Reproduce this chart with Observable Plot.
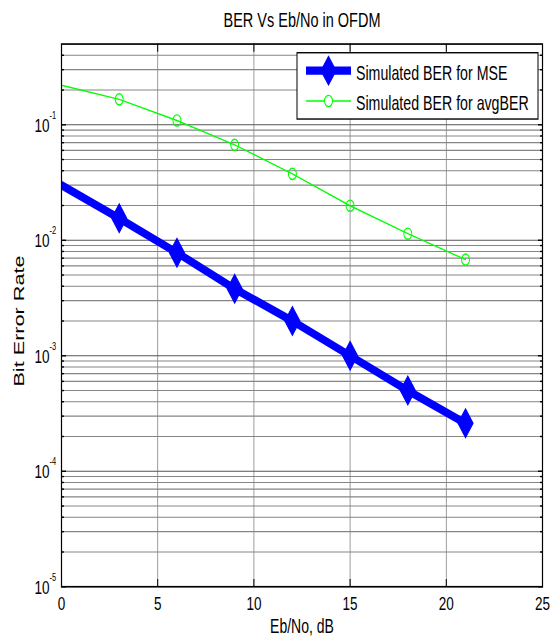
<!DOCTYPE html>
<html>
<head>
<meta charset="utf-8">
<script src="https://cdn.jsdelivr.net/npm/d3@7"></script>
<script src="https://cdn.jsdelivr.net/npm/@observablehq/plot@0.6"></script>
<style>
  html, body { margin: 0; padding: 0; background: #ffffff; }
  #chart svg { display: block; }
</style>
</head>
<body>
<div id="chart"></div>
<script>
// ---- data ----
const ebno = [0, 3, 6, 9, 12, 15, 18, 21];
const berMSE = [0.030, 0.0155, 0.0078, 0.0038, 0.0020, 0.00100, 0.00050, 0.00026];
const berAvg = [0.22, 0.166, 0.109, 0.067, 0.0376, 0.0199, 0.0114, 0.0068];
const seriesNames = ["Simulated BER for MSE", "Simulated BER for avgBER"];
const xTicks = [0, 5, 10, 15, 20, 25];
const yDecades = [1e-5, 1e-4, 1e-3, 1e-2, 1e-1];
const yExponents = ["-5", "-4", "-3", "-2", "-1"];
const titleText = "BER Vs Eb/No in OFDM";
const xLabel = "Eb/No, dB";
const yLabel = "Bit Error Rate";

// ---- layout (drawn in an unstretched box, then stretched vertically like the reference) ----
const W = 550, H = 642, S = 1.4;
const H0 = Math.round(H / S);
const font = "'Liberation Sans', Arial, Helvetica, sans-serif";

const mse = ebno.map((x, i) => ({x, y: berMSE[i]}));
const avg = ebno.map((x, i) => ({x, y: berAvg[i]}));
const minorY = yDecades.flatMap(d => [2,3,4,5,6,7,8,9].map(k => +(k * d).toPrecision(3))).filter(v => v < 0.5);

const tallDiamond = {
  draw(ctx, size) {
    const ratio = 1.36;
    const a = Math.sqrt(size / (2 * ratio)), b = a * ratio;
    ctx.moveTo(0, -b); ctx.lineTo(a, 0); ctx.lineTo(0, b); ctx.lineTo(-a, 0); ctx.closePath();
  }
};

const gridStyle = {stroke: "#858585", strokeOpacity: 1, strokeWidth: 0.8};
const axisNoText = {fill: "none", label: null, stroke: "black", strokeWidth: 1};

const chart = Plot.plot({
  width: W,
  height: H0,
  marginLeft: 61,
  marginRight: 8,
  marginTop: 31,
  marginBottom: 40,
  style: {fontFamily: font, background: "#ffffff", color: "#000"},
  x: {domain: [0, 25]},
  y: {type: "log", domain: [1e-5, 0.5]},
  marks: [
    Plot.gridX(xTicks.filter(v => v > 0 && v < 25), gridStyle),
    Plot.gridY(minorY, gridStyle),
    Plot.gridY(yDecades.slice(1), {...gridStyle, stroke: "#555"}),
    Plot.axisX(xTicks, {...axisNoText, anchor: "bottom", tickSize: -5}),
    Plot.axisX(xTicks, {...axisNoText, anchor: "top", tickSize: -5}),
    Plot.axisY(yDecades, {...axisNoText, anchor: "left", tickSize: -5}),
    Plot.axisY(minorY, {...axisNoText, anchor: "left", tickSize: -3}),
    Plot.axisY(yDecades, {...axisNoText, anchor: "right", tickSize: -5}),
    Plot.axisY(minorY, {...axisNoText, anchor: "right", tickSize: -3}),
    Plot.line(avg, {x: "x", y: "y", stroke: "#00ff00", strokeWidth: 1, clip: true}),
    Plot.dot(avg.filter(d => d.x > 0), {x: "x", y: "y", r: 4, stroke: "#00ff00", strokeWidth: 1, fill: "none"}),
    Plot.line(mse, {x: "x", y: "y", stroke: "#0000ff", strokeWidth: 6, strokeLinejoin: "round", clip: true}),
    Plot.dot(mse.filter(d => d.x > 0), {x: "x", y: "y", r: 7, symbol: tallDiamond, fill: "#0000ff", stroke: "#0000ff", strokeWidth: 1}),
    Plot.frame({stroke: "black", strokeWidth: 1.2}),
    // tick labels
    Plot.text(xTicks, {x: d => d, frameAnchor: "bottom", lineAnchor: "middle", dy: 12.5, text: d => String(d), fontSize: 13.5, fill: "black"}),
    Plot.text(yDecades, {y: d => d, frameAnchor: "left", lineAnchor: "middle", dx: -12, dy: 0.7, textAnchor: "end", text: () => "10", fontSize: 13.5, fill: "black"}),
    Plot.text(yDecades, {y: d => d, frameAnchor: "left", lineAnchor: "middle", dx: -12, dy: -6.8, textAnchor: "start", text: (d, i) => yExponents[i], fontSize: 7.5, fill: "black"}),
    // titles
    Plot.text([titleText], {frameAnchor: "top", lineAnchor: "middle", textAnchor: "middle", dy: -17.1, text: d => d, fontSize: 14.5, fill: "black"}),
    Plot.text([xLabel], {frameAnchor: "bottom", lineAnchor: "middle", textAnchor: "middle", dy: 28.5, text: d => d, fontSize: 14, fill: "black"}),
    Plot.text([yLabel], {frameAnchor: "left", lineAnchor: "middle", textAnchor: "middle", dx: -42.6, dy: 4, rotate: -90, text: d => d, fontSize: 15.5, fill: "black"})
  ]
});

// ---- legend (pixel placement inside the axes box, top right) ----
const svg = d3.select(chart);
const lg = svg.append("g").attr("font-family", font).attr("text-anchor", "start");
const box = {x0: 297, x1: 538, y0: 37.7, y1: 85.1};
lg.append("rect").attr("x", box.x0).attr("y", box.y0)
  .attr("width", box.x1 - box.x0).attr("height", box.y1 - box.y0)
  .attr("fill", "white").attr("stroke", "black").attr("stroke-width", 1);
const rows = [
  {y: 50.5, name: seriesNames[0], color: "#0000ff", width: 6, marker: "diamond"},
  {y: 72.2, name: seriesNames[1], color: "#00ff00", width: 1, marker: "circle"}
];
rows.forEach(r => {
  lg.append("line").attr("x1", 306).attr("x2", 351).attr("y1", r.y).attr("y2", r.y)
    .attr("stroke", r.color).attr("stroke-width", r.width);
  if (r.marker === "diamond") {
    lg.append("path").attr("d", d3.symbol(tallDiamond, 7 * 7 * Math.PI)())
      .attr("transform", `translate(328.5,${r.y})`).attr("fill", r.color).attr("stroke", r.color);
  } else {
    lg.append("circle").attr("cx", 328.5).attr("cy", r.y).attr("r", 4)
      .attr("fill", "white").attr("stroke", r.color).attr("stroke-width", 1);
  }
  lg.append("text").attr("x", 356).attr("y", r.y + 1.8).attr("dy", "0.32em")
    .attr("text-anchor", "start").attr("font-size", 14.2).attr("fill", "black").text(r.name);
});

// stretch vertically, as the reference picture is
chart.setAttribute("viewBox", `0 0 ${W} ${H0}`);
chart.setAttribute("width", W);
chart.setAttribute("height", H);
chart.setAttribute("preserveAspectRatio", "none");
chart.style.width = W + "px";
chart.style.height = H + "px";
chart.style.maxWidth = "none";

document.getElementById("chart").appendChild(chart);
</script>
</body>
</html>
